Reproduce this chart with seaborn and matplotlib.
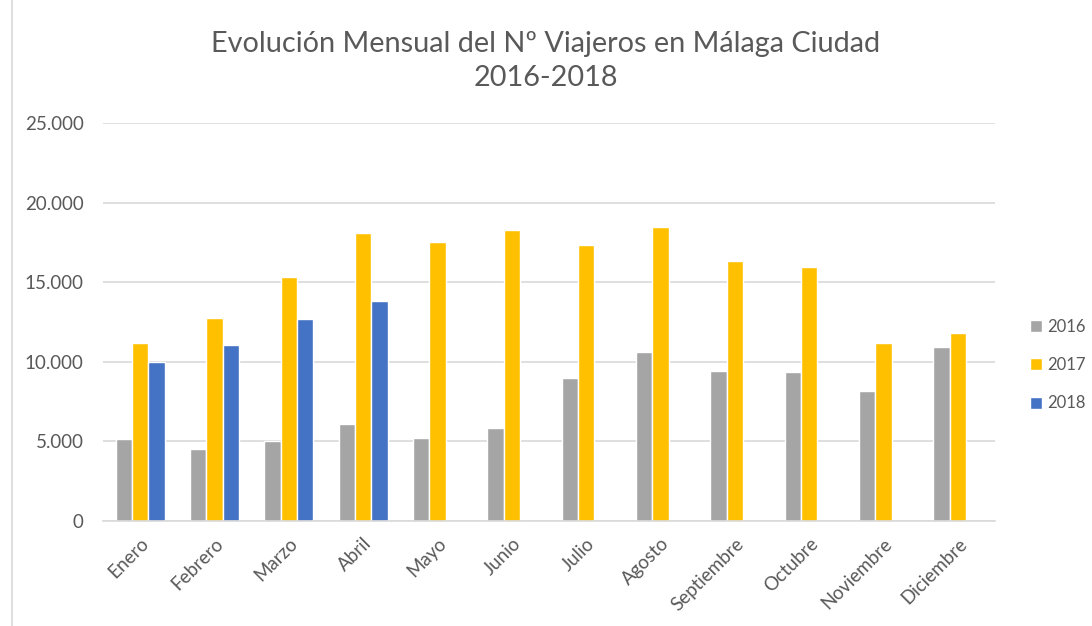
import numpy as np
import pandas as pd
import seaborn as sns
import matplotlib.pyplot as plt
from matplotlib.ticker import FuncFormatter
from matplotlib.patches import Patch

# datos
meses = ["Enero", "Febrero", "Marzo", "Abril", "Mayo", "Junio", "Julio",
         "Agosto", "Septiembre", "Octubre", "Noviembre", "Diciembre"]
viajeros_2016 = [5160, 4510, 5040, 6070, 5210, 5840, 8980, 10620, 9420, 9360, 8170, 10930]
viajeros_2017 = [11190, 12720, 15300, 18090, 17530, 18280, 17340, 18470, 16330, 15950, 11180, 11810]
viajeros_2018 = [10010, 11040, 12660, 13830, np.nan, np.nan, np.nan, np.nan, np.nan, np.nan, np.nan, np.nan]
anios = ["2016", "2017", "2018"]
colores = ["#A5A5A5", "#FFC000", "#4472C4"]

tabla = pd.DataFrame({"Mes": meses, "2016": viajeros_2016, "2017": viajeros_2017, "2018": viajeros_2018})
tabla = tabla.melt(id_vars="Mes", var_name="Año", value_name="Viajeros")

sns.set_theme(style="white")
plt.rcParams["font.family"] = ["Lato", "DejaVu Sans"]

fig = plt.figure(figsize=(10.92, 6.26), dpi=100)
ax = fig.add_axes([103 / 1092, 1 - 521 / 626, 892 / 1092, 398 / 626])

sns.barplot(data=tabla, x="Mes", y="Viajeros", hue="Año", hue_order=anios,
            palette=colores, width=0.66, saturation=1, ax=ax, legend=False)

ax.set_ylim(0, 25000)
ax.set_yticks(range(0, 25001, 5000))
ax.yaxis.set_major_formatter(FuncFormatter(lambda v, p: f"{int(v):,}".replace(",", ".")))
ax.grid(axis="y", color="#D9D9D9", linewidth=1.2)
ax.set_axisbelow(True)
for lado in ["top", "right", "left"]:
    ax.spines[lado].set_visible(False)
ax.spines["bottom"].set_color("#D9D9D9")
ax.spines["bottom"].set_linewidth(1.2)
ax.set_xlabel("")
ax.set_ylabel("")
ax.tick_params(axis="both", length=0, colors="#595959", labelsize=13.5)
ax.tick_params(axis="y", pad=14)
ax.tick_params(axis="x", pad=10)
plt.setp(ax.get_xticklabels(), rotation=45, ha="right", rotation_mode="anchor")

fig.suptitle("Evolución Mensual del Nº Viajeros en Málaga Ciudad\n2016-2018",
             y=0.95, fontsize=20.8, color="#595959", linespacing=1.35)

handles = [Patch(facecolor=c, label=a) for a, c in zip(anios, colores)]
fig.legend(handles=handles, loc="center left", bbox_to_anchor=(1030 / 1092, 1 - 365 / 626),
           frameon=False, fontsize=12, labelcolor="#595959", handlelength=0.7,
           handleheight=0.7, labelspacing=1.35, handletextpad=0.35,
           borderpad=0, borderaxespad=0)

# borde del area del grafico
fig.add_artist(plt.Line2D([12 / 1092, 12 / 1092], [0, 1], color="#D9D9D9", linewidth=1.2))

fig.savefig("out.png", dpi=100)
